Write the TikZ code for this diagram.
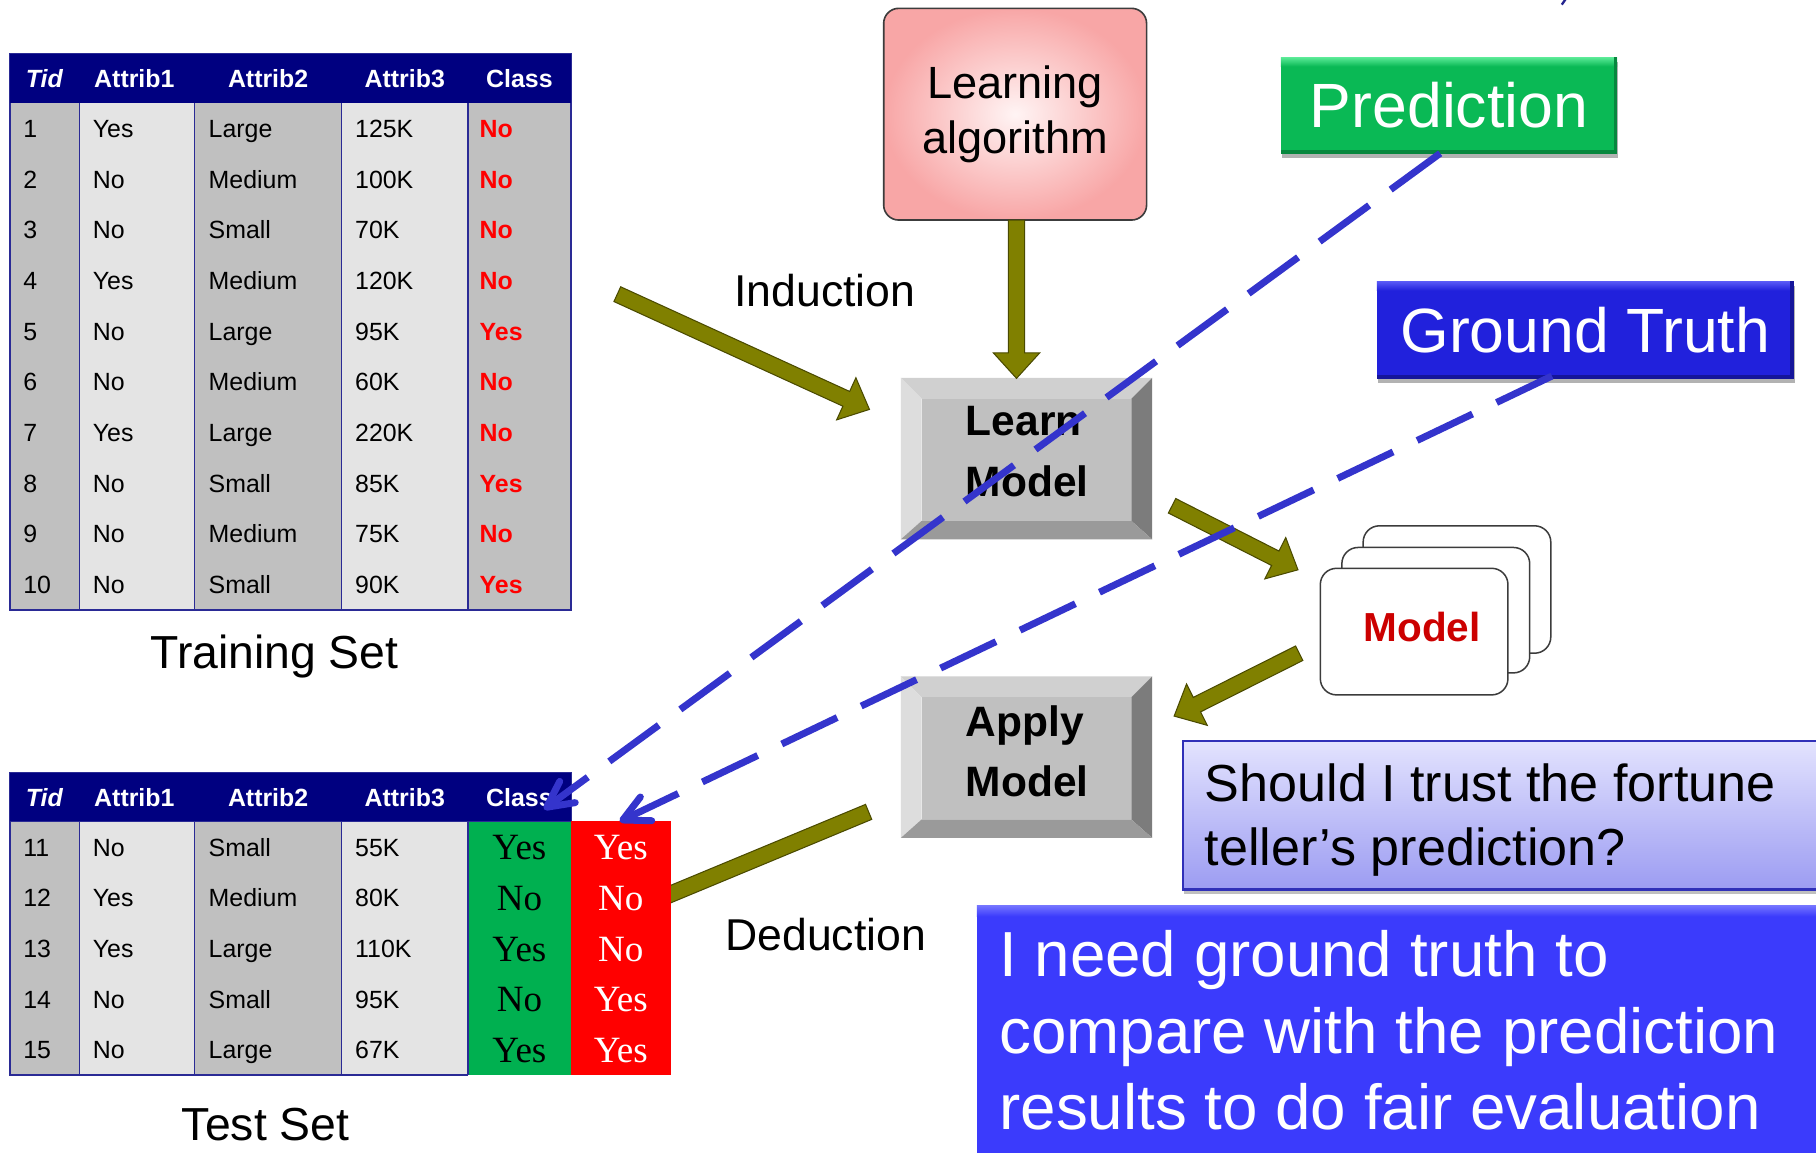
\documentclass[tikz,border=0pt]{standalone}
\usepackage{fontspec}
\setmainfont{Liberation Sans}
\newfontfamily\timesfont{Liberation Serif}
\usetikzlibrary{arrows.meta,calc,shadows}
\newcommand\setfs[2]{\fontsize{#1}{#2}\selectfont}

\definecolor{headnavy}{HTML}{000080}
\definecolor{cellgray}{HTML}{C0C0C0}
\definecolor{celllight}{HTML}{E4E4E4}
\definecolor{gridblue}{HTML}{2A2A95}
\definecolor{classred}{HTML}{FF0000}
\definecolor{testgreen}{HTML}{00B050}
\definecolor{testred}{HTML}{FF0000}
\definecolor{olivefill}{HTML}{808000}
\definecolor{oliveedge}{HTML}{4A4A00}
\definecolor{dashblue}{HTML}{3434CC}
\definecolor{algoinner}{HTML}{FFF4F4}
\definecolor{algoouter}{HTML}{F8A6A6}
\definecolor{algoedge}{HTML}{3C3C3C}
\definecolor{bevtop}{HTML}{D0D0D0}
\definecolor{bevleft}{HTML}{DDDDDD}
\definecolor{bevright}{HTML}{7C7C7C}
\definecolor{bevbottom}{HTML}{9A9A9A}
\definecolor{bevface}{HTML}{C0C0C0}
\definecolor{cardedge}{HTML}{3C3C3C}
\definecolor{modelred}{HTML}{CC0000}
\definecolor{predmain}{HTML}{0AB955}
\definecolor{predlight}{HTML}{5CEB98}
\definecolor{preddark}{HTML}{07873E}
\definecolor{gtmain}{HTML}{2121DC}
\definecolor{gtlight}{HTML}{5A5AF6}
\definecolor{gtdark}{HTML}{15159A}
\definecolor{qtop}{HTML}{E3E3FE}
\definecolor{qbottom}{HTML}{9C9CF2}
\definecolor{qedge}{HTML}{3030B8}
\definecolor{notemain}{HTML}{3B3BFC}
\definecolor{notelight}{HTML}{7272FF}

\tikzset{
  hdr/.style={anchor=base, text=white, font=\setfs{21.5}{26}\bfseries, inner sep=0pt},
  cell/.style={anchor=base west, font=\setfs{21.5}{26}, inner sep=0pt},
  clscell/.style={anchor=base west, font=\setfs{21.5}{26}\bfseries, text=classred, inner sep=0pt},
  bigcell/.style={anchor=base, font=\timesfont\setfs{32}{38}, inner sep=0pt},
  gridline/.style={draw=gridblue, line width=1.4pt},
  setlabel/.style={anchor=base, font=\setfs{40}{48}, inner sep=0pt},
  steplabel/.style={anchor=base west, font=\setfs{38.5}{46}, inner sep=0pt},
  arrowbody/.style={fill=olivefill, draw=oliveedge, line width=0.9pt, line join=miter},
  bevelshape/.style={rectangle, minimum width=216.6pt, minimum height=139pt, inner sep=0pt},
  beveltext/.style={align=left, font=\setfs{36.7}{52}\bfseries, inner sep=0pt},
  algobox/.style={rectangle, rounded corners=13pt, draw=algoedge, line width=1.4pt,
    inner color=algoinner, outer color=algoouter, minimum width=227pt,
    minimum height=182.8pt, inner sep=0pt, align=center, font=\setfs{39}{48}},
  card/.style={rectangle, rounded corners=14pt, draw=cardedge, line width=1.3pt,
    fill=white, inner sep=0pt},
  tagbox/.style={rectangle, inner sep=0pt, text=white, font=\setfs{54}{60},
    drop shadow={shadow xshift=1pt, shadow yshift=-4pt, opacity=0.3, fill=black}},
  notetext/.style={anchor=north west, align=left, inner sep=0pt},
  dashline/.style={draw=dashblue, line width=6pt, dash pattern=on 53pt off 23pt},
  barbhead/.style={draw=dashblue, line width=6pt, line cap=round, line join=round},
}

% olive block arrow from #1 to #2 (shaft 14, head 40 wide, 22 long)
\newcommand\blockarrow[2]{%
  \filldraw[arrowbody]
    ($(#1)!7pt!90:(#2)$) -- ($(#2)!22pt!(#1)!7pt!-90:(#1)$)
    -- ($(#2)!22pt!(#1)!20pt!-90:(#1)$) -- (#2)
    -- ($(#2)!22pt!(#1)!20pt!90:(#1)$) -- ($(#2)!22pt!(#1)!7pt!90:(#1)$)
    -- ($(#1)!7pt!-90:(#2)$) -- cycle;}

% dashed pointer from #1 ending in an open barbed head at #2
\newcommand\dashpointer[2]{%
  \draw[dashline] (#1) -- ($(#2)!3pt!(#1)$);
  \draw[barbhead] ($(#2)!25pt!27:(#1)$) -- (#2) -- ($(#2)!25pt!-27:(#1)$);}

% bevelled grey button around node #1
\newcommand\bevelbox[1]{%
  \fill[bevtop] (#1.north west) -- (#1.north east) -- ($(#1.north east)+(-18,18)$) -- ($(#1.north west)+(18,18)$) -- cycle;
  \fill[bevleft] (#1.north west) -- ($(#1.north west)+(18,18)$) -- ($(#1.south west)+(18,-16)$) -- (#1.south west) -- cycle;
  \fill[bevright] (#1.north east) -- (#1.south east) -- ($(#1.south east)+(-18,-16)$) -- ($(#1.north east)+(-18,18)$) -- cycle;
  \fill[bevbottom] (#1.south west) -- ($(#1.south west)+(18,-16)$) -- ($(#1.south east)+(-18,-16)$) -- (#1.south east) -- cycle;
  \fill[bevface] ($(#1.north west)+(18,18)$) rectangle ($(#1.south east)+(-18,-16)$);}

% light top rim and dark lower/right rims on a tag
\newcommand\glossy[4]{%
  \shade[top color=#3, bottom color=#2] (#1.north west) rectangle ($(#1.north east)+(0,8)$);
  \fill[#4] ($(#1.south west)+(0,-3)$) rectangle (#1.south east);
  \fill[#4] ($(#1.north east)+(-3,0)$) rectangle (#1.south east);}

\begin{document}
\begin{tikzpicture}[x=1pt,y=-1pt]
\path[use as bounding box] (0,0) rectangle (1568,995);
\clip (0,0) rectangle (1568,995);
\fill[white] (0,0) rectangle (1568,995);

% ---------------- training set ----------------
\fill[headnavy] (8.5,46.5) rectangle (493,89);
\draw[gridblue, line width=0.8pt] (8.5,46.5) rectangle (493,89);
\foreach \xa/\xb/\c in {8.5/68.5/cellgray, 68.5/168/celllight, 168/295/cellgray, 295/404/celllight, 404/493/cellgray}
  \fill[\c] (\xa,89) rectangle (\xb,526.5);
\draw[gridline] (8.5,89) -- (8.5,526.5) -- (493,526.5) -- (493,89);
\foreach \x in {68.5,168,295,404} \draw[gridline] (\x,89) -- (\x,526.5);
\foreach \x/\t [count=\k] in {38.5/\textit{Tid},116/Attrib1,231.5/Attrib2,349.5/Attrib3,448.5/Class}
  \node[hdr] (trh-\k) at (\x,75.2) {\t};
\foreach \i/\a/\b/\c/\d [count=\r from 0] in {1/Yes/Large/125K/No, 2/No/Medium/100K/No,
    3/No/Small/70K/No, 4/Yes/Medium/120K/No, 5/No/Large/95K/Yes, 6/No/Medium/60K/No,
    7/Yes/Large/220K/No, 8/No/Small/85K/Yes, 9/No/Medium/75K/No, 10/No/Small/90K/Yes} {
  \pgfmathsetmacro\yb{89+43.75*\r+29.6}
  \node[cell] (tr-\i-0) at (20,\yb) {\i};
  \node[cell] (tr-\i-1) at (80,\yb) {\a};
  \node[cell] (tr-\i-2) at (180,\yb) {\b};
  \node[cell] (tr-\i-3) at (306.5,\yb) {\c};
  \node[clscell] (tr-\i-4) at (414,\yb) {\d};
}
\node[setlabel] (trainlbl) at (237,577) {Training Set};

% deduction arrow runs underneath the test table
\coordinate (dedA) at (750,701);
\coordinate (dedB) at (542.5,787.2);
\blockarrow{dedA}{dedB}

% ---------------- test set ----------------
\fill[headnavy] (8.5,667) rectangle (493,709.6);
\draw[gridblue, line width=0.8pt] (8.5,667) rectangle (493,709.6);
\foreach \xa/\xb/\c in {8.5/68.5/cellgray, 68.5/168/celllight, 168/295/cellgray, 295/404/celllight, 404/493/testgreen}
  \fill[\c] (\xa,709.6) rectangle (\xb,928.3);
\fill[testred] (493,708.7) rectangle (579,928.3);
\draw[gridline] (8.5,709.6) -- (8.5,928.3) -- (404,928.3);
\foreach \x in {68.5,168,295,404} \draw[gridline] (\x,709.6) -- (\x,928.3);
\foreach \x/\t [count=\k] in {38.5/\textit{Tid},116/Attrib1,231.5/Attrib2,349.5/Attrib3,448.5/Class}
  \node[hdr] (tsh-\k) at (\x,696) {\t};
\foreach \i/\a/\b/\c/\p/\g [count=\r from 0] in {11/No/Small/55K/Yes/Yes, 12/Yes/Medium/80K/No/No,
    13/Yes/Large/110K/Yes/No, 14/No/Small/95K/No/Yes, 15/No/Large/67K/Yes/Yes} {
  \pgfmathsetmacro\yb{709.6+43.74*\r+29.6}
  \pgfmathsetmacro\yt{709.6+43.74*\r+32.7}
  \node[cell] (ts-\i-0) at (20,\yb) {\i};
  \node[cell] (ts-\i-1) at (80,\yb) {\a};
  \node[cell] (ts-\i-2) at (180,\yb) {\b};
  \node[cell] (ts-\i-3) at (306.5,\yb) {\c};
  \node[bigcell, text=black] (ts-\i-4) at (448.5,\yt) {\p};
  \node[bigcell, text=white] (ts-\i-5) at (536,\yt) {\g};
}
\node[setlabel] (testlbl) at (229.3,984.5) {Test Set};

% ---------------- learning pipeline ----------------
\node[algobox] (algo) at (876.5,98.6) {Learning\\algorithm};

\node[bevelshape] (learn) at (886.3,396) {};
\bevelbox{learn}
\node[beveltext] (learntxt) at (887,390) {Learn\\Model};

\node[bevelshape] (apply) at (886.3,653.8) {};
\bevelbox{apply}
\node[beveltext] (applytxt) at (887,648.6) {Apply\\Model};

\node[card, minimum width=162pt, minimum height=110pt] (cardback) at (1258,509) {};
\node[card, minimum width=162.2pt, minimum height=108.3pt] (cardmid) at (1239.7,526.85) {};
\node[card, minimum width=162pt, minimum height=109.3pt] (cardfront) at (1221,545.35) {};
\node[font=\setfs{35}{42}\bfseries, text=modelred, inner sep=0pt] (modeltxt) at (1228,541.2) {Model};

\node[steplabel] (induct) at (634,264.8) {Induction};
\node[steplabel] (deduct) at (626,820.4) {Deduction};

\coordinate (dnA) at (877.7,190);
\coordinate (dnB) at (877.7,326.7);
\coordinate (indA) at (533,254);
\coordinate (indB) at (750.7,353.5);
\coordinate (lmA) at (1012,436.7);
\coordinate (lmB) at (1120.7,492);
\coordinate (maA) at (1121.8,564);
\coordinate (maB) at (1013.8,618.3);
\blockarrow{dnA}{dnB}
\blockarrow{indA}{indB}
\blockarrow{lmA}{lmB}
\blockarrow{maA}{maB}

% ---------------- evaluation notes ----------------
\node[tagbox, fill=predmain, minimum width=289.8pt, minimum height=82.9pt] (pred) at (1251.1,90.95) {Prediction};
\glossy{pred}{predmain}{predlight}{preddark}
\node[tagbox, fill=gtmain, minimum width=359.6pt, minimum height=83.7pt] (gt) at (1368.8,284.85) {Ground Truth};
\glossy{gt}{gtmain}{gtlight}{gtdark}

\node[rectangle, inner sep=0pt, top color=qtop, bottom color=qbottom, draw=qedge, line width=1.8pt,
  minimum width=558.4pt, minimum height=128.4pt,
  drop shadow={shadow xshift=1pt, shadow yshift=-4pt, opacity=0.25, fill=black}] (q1) at (1300.8,703.8) {};
\node[notetext, font=\setfs{45}{54.7}] (q1txt) at (1040,659.4) {Should I trust the fortune\\teller’s prediction?};

\node[rectangle, inner sep=0pt, fill=notemain, minimum width=736.3pt, minimum height=227.6pt,
  drop shadow={shadow xshift=1pt, shadow yshift=-4pt, opacity=0.25, fill=black}] (q2) at (1211.85,896.2) {};
\shade[top color=notelight, bottom color=notemain] (q2.north west) rectangle ($(q2.north east)+(0,9)$);
\node[notetext, font=\setfs{55}{66}, text=white] (q2txt) at (862.7,803.3)
  {I need ground truth to\\compare with the prediction\\results to do fair evaluation};

% ---------------- dashed pointers to the class columns ----------------
\coordinate (predfoot) at (1243.5,132.4);
\coordinate (predtip) at (472,697);
\coordinate (gtfoot) at (1340,324.7);
\coordinate (gttip) at (537.7,708);
\dashpointer{predfoot}{predtip}
\dashpointer{gtfoot}{gttip}

\draw[dashblue!70!black, line width=2pt] (1348.5,4) -- (1352,-1);
\end{tikzpicture}
\end{document}
